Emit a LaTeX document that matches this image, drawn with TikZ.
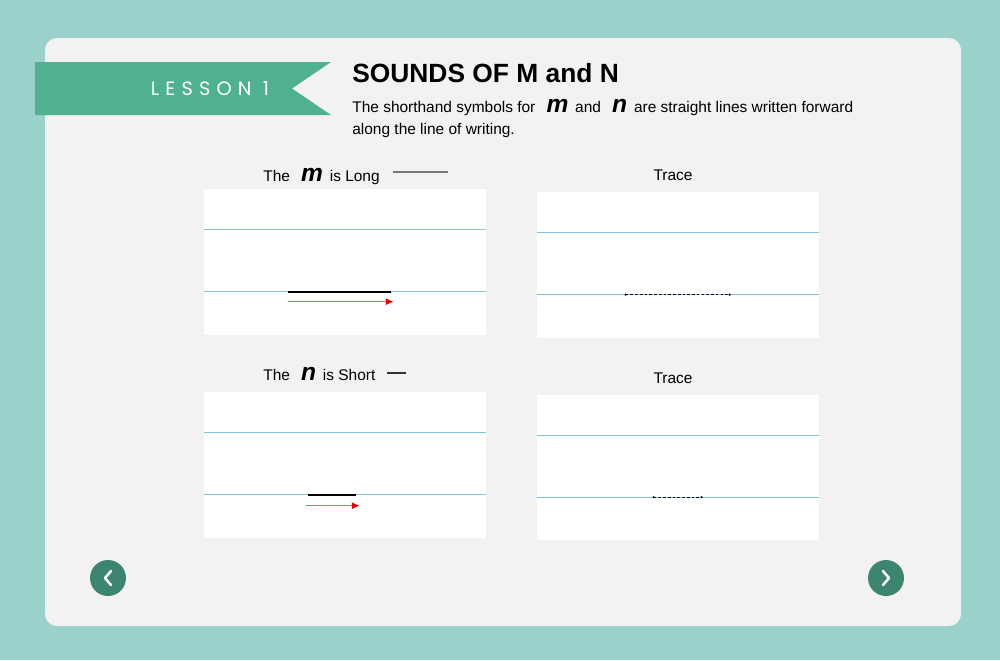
\documentclass[tikz,border=0pt]{standalone}
\usepackage{fontspec}
\setmainfont{Liberation Sans}
\newfontfamily\bannerfont[LetterSpace=32]{Poppins}
\usetikzlibrary{arrows.meta,positioning,calc}
\definecolor{PageTeal}{HTML}{9AD2CB}
\definecolor{CardGrey}{HTML}{F2F2F2}
\definecolor{BannerGreen}{HTML}{50B192}
\definecolor{ButtonGreen}{HTML}{3D8471}
\definecolor{RuleBlue}{HTML}{88C0DA}
\definecolor{GuideRed}{HTML}{E06A6A}
\definecolor{TipRed}{HTML}{E00000}
\definecolor{LabelGrey}{HTML}{777777}

\newcommand{\bigletter}[1]{{\fontsize{14}{15}\selectfont\bfseries\itshape\ #1\ }}

\begin{document}
\begin{tikzpicture}[x=0.02cm, y=-0.02cm,
  sheet/.style={fill=white, minimum width=5.64cm, minimum height=2.92cm, inner sep=0pt},
  rule/.style={draw=RuleBlue, line width=0.6pt},
  stroke/.style={draw=black, line width=1.2pt},
  guide/.style={draw=GuideRed, line width=0.6pt, -{Latex[length=4.5pt, width=4pt, color=TipRed]}},
  trace/.style={draw=black, line width=0.7pt, dash pattern=on 1.5pt off 1.2pt},
  caption/.style={font=\fontsize{8.8}{10}\selectfont, anchor=base, inner sep=0pt},
  navbtn/.style={circle, fill=ButtonGreen, minimum size=0.72cm, inner sep=0pt},
  chevron/.style={draw=white, line width=1.4pt, line cap=round, line join=round}
]

% page and card
\fill[PageTeal] (0,0) rectangle (1000,660);
\fill[CardGrey, rounded corners=0.24cm] (45,38) rectangle (961,626);

% lesson banner
\fill[BannerGreen] (35,62) -- (331,62) -- (292,88.5) -- (331,115) -- (35,115) -- cycle;
\node[text=white, font=\bannerfont\fontsize{11}{13}\selectfont, inner sep=0pt] (lesson) at (210,88.5) {LESSON 1};

% heading
\node[anchor=base west, inner sep=0pt, font=\fontsize{15}{17}\selectfont\bfseries] (title) at (352,82) {SOUNDS OF M and N};
\node[anchor=base west, inner sep=0pt, font=\fontsize{8.8}{10}\selectfont] (introa) at (352,112)
  {The shorthand symbols for \bigletter{m}and \bigletter{n}are straight lines written forward};
\node[anchor=base west, inner sep=0pt, font=\fontsize{8.8}{10}\selectfont] (introb) at (352,134)
  {along the line of writing.};

% writing sheets
\node[sheet] (longsheet) at (345,262) {};
\node[sheet] (tracem) at (678,265) {};
\node[sheet] (shortsheet) at (345,465) {};
\node[sheet] (tracen) at (678,467.5) {};

\foreach \s in {longsheet,tracem,shortsheet,tracen}
  \foreach \d in {41,103}
    \draw[rule] ($(\s.north west)+(0,\d)$) -- ($(\s.north east)+(0,\d)$);

% captions
\node[caption, anchor=base west] (longcap) at (263,181) {The \bigletter{m}is Long};
\draw[draw=LabelGrey, line width=1.2pt] ($(longcap.base east)+(13,-9)$) -- ++(55,0);
\node[caption] (tracemcap) at (673,180) {Trace};
\node[caption, anchor=base west] (shortcap) at (263,380) {The \bigletter{n}is Short};
\draw[draw=black!80, line width=0.6pt] ($(shortcap.base east)+(11,-7)$) -- ++(19,0);
\node[caption] (tracencap) at (673,383) {Trace};

% m: long stroke
\coordinate (mA) at ($(longsheet.north west)+(84,103)$);
\coordinate (mB) at ($(longsheet.north west)+(187,103)$);
\coordinate (mC) at ($(longsheet.north west)+(84,113)$);
\coordinate (mD) at ($(longsheet.north west)+(190,113)$);
\draw[stroke] (mA) -- (mB);
\draw[guide] (mC) -- (mD);

% n: short stroke
\coordinate (nA) at ($(shortsheet.north west)+(104,103)$);
\coordinate (nB) at ($(shortsheet.north west)+(152,103)$);
\coordinate (nC) at ($(shortsheet.north west)+(102,114)$);
\coordinate (nD) at ($(shortsheet.north west)+(156,114)$);
\draw[stroke] (nA) -- (nB);
\draw[guide] (nC) -- (nD);

% dotted tracing strokes
\coordinate (tmA) at ($(tracem.north west)+(89,103)$);
\coordinate (tmB) at ($(tracem.north west)+(193,103)$);
\coordinate (tnA) at ($(tracen.north west)+(117,103)$);
\coordinate (tnB) at ($(tracen.north west)+(165,103)$);
\draw[trace] (tmA) -- (tmB);
\draw[trace] (tnA) -- (tnB);
\foreach \p in {tmA,tmB,tnA,tnB}
  \fill (\p) circle[radius=0.7pt];

% navigation
\node[navbtn] (prev) at (108,578) {};
\node[navbtn] (next) at (886,578) {};
\draw[chevron] ($(prev)+(3,-7)$) -- ($(prev)+(-3,0)$) -- ($(prev)+(3,7)$);
\draw[chevron] ($(next)+(-3,-7)$) -- ($(next)+(3,0)$) -- ($(next)+(-3,7)$);

\end{tikzpicture}
\end{document}
